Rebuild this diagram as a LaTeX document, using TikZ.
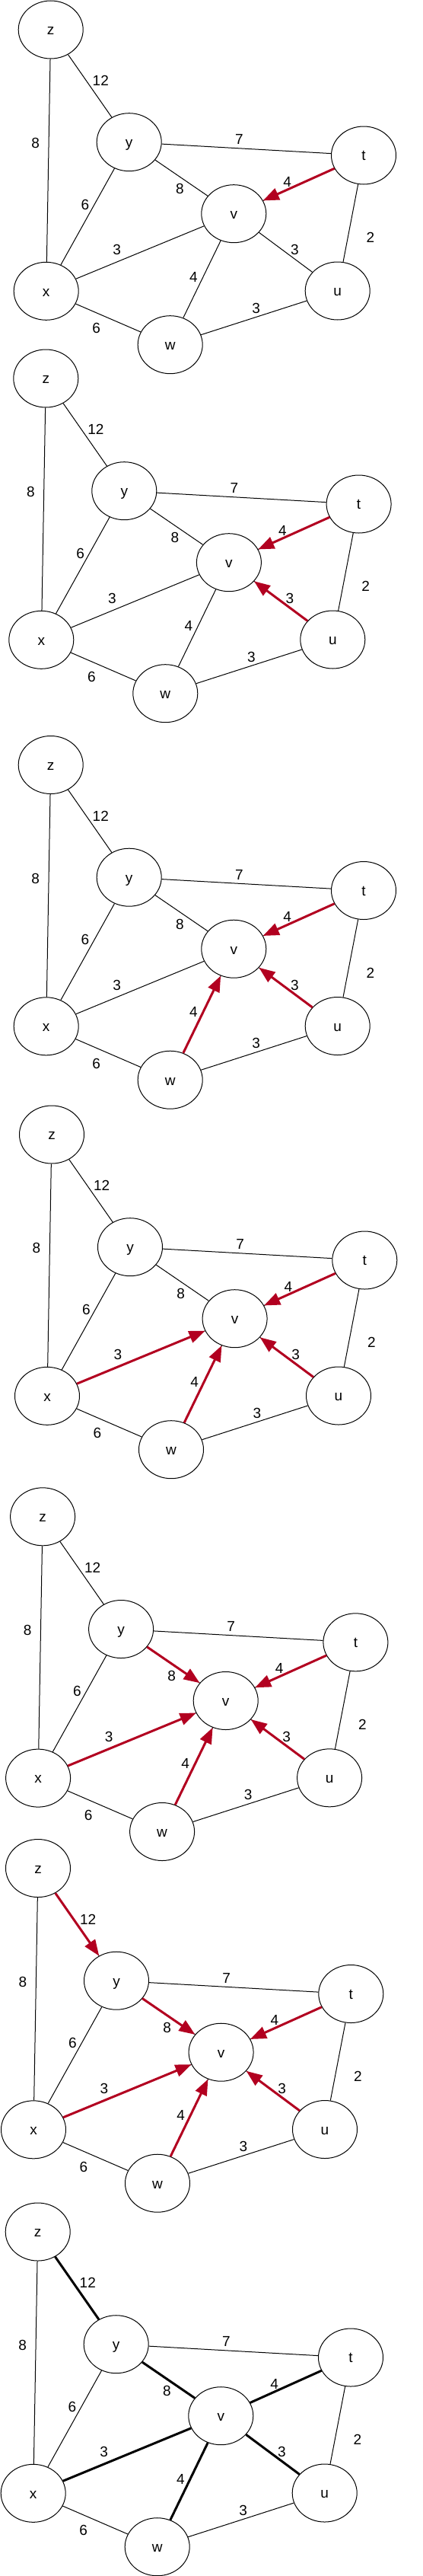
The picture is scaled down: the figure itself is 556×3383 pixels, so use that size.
\documentclass[tikz,border=0pt]{standalone}
\usepackage{fontspec}
\setmainfont{Liberation Sans}
\usetikzlibrary{arrows.meta, shapes.geometric}
\definecolor{relaxred}{RGB}{178,0,32}
\tikzset{
    vertex/.style={draw, ellipse, line width=1pt, minimum width=85pt, minimum height=76pt, inner sep=0pt,
        font=\fontsize{19}{22}\selectfont, text height=13.6pt, text depth=0pt},
    weight/.style={inner sep=0pt, font=\fontsize{19}{22}\selectfont, text height=13.6pt, text depth=0pt},
    link/.style={line width=1pt, draw=black},
    relax/.style={-{Triangle[length=21pt, width=16pt]}, line width=3pt, draw=relaxred},
    tree/.style={line width=3pt, draw=black}
}
% one copy of the weighted graph, coordinates in pixels of a panel
\newcommand{\dijkstrapanel}{%
    \node (z) [vertex] at (66.7,39) {z};
    \node (y) [vertex] at (169.7,186.7) {y};
    \node (t) [vertex] at (478,204) {t};
    \node (v) [vertex] at (307.3,280.7) {v};
    \node (x) [vertex] at (60.7,382.3) {x};
    \node (u) [vertex] at (443.7,382) {u};
    \node (w) [vertex] at (223.7,452.7) {w};

    \draw [link] (z) -- (x);
    \draw [link] (z) -- (y);
    \draw [link] (y) -- (t);
    \draw [link] (y) -- (v);
    \draw [link] (y) -- (x);
    \draw [link] (t) -- (v);
    \draw [link] (t) -- (u);
    \draw [link] (x) -- (v);
    \draw [link] (v) -- (u);
    \draw [link] (v) -- (w);
    \draw [link] (x) -- (w);
    \draw [link] (w) -- (u);

    \node (wzy) [weight] at (132.3,106) {12};
    \node (wzx) [weight] at (46.7,187.7) {8};
    \node (wyt) [weight] at (314.3,182.7) {7};
    \node (wyv) [weight] at (236.3,247.7) {8};
    \node (wyx) [weight] at (112,268.3) {6};
    \node (wtv) [weight] at (377.7,238.3) {4};
    \node (wtu) [weight] at (487,311.7) {2};
    \node (wxv) [weight] at (153.7,327.7) {3};
    \node (wvu) [weight] at (387.3,327.7) {3};
    \node (wvw) [weight] at (254.3,363.3) {4};
    \node (wxw) [weight] at (126.7,430.7) {6};
    \node (wwu) [weight] at (336.7,404.3) {3};
}

\begin{document}
\begin{tikzpicture}[x=1pt, y=-1pt]
    \useasboundingbox (0,0) rectangle (556,3383);

    % step 1
    \begin{scope}[shift={(0,0)}, name prefix=a-]
        \dijkstrapanel
        \draw [relax] (t) -- (v);
    \end{scope}

    % step 2
    \begin{scope}[shift={(-6.4,458)}, name prefix=b-]
        \dijkstrapanel
        \draw [relax] (t) -- (v);
        \draw [relax] (u) -- (v);
    \end{scope}

    % step 3
    \begin{scope}[shift={(0,965.5)}, name prefix=c-]
        \dijkstrapanel
        \draw [relax] (t) -- (v);
        \draw [relax] (u) -- (v);
        \draw [relax] (w) -- (v);
    \end{scope}

    % step 4
    \begin{scope}[shift={(1.3,1451)}, name prefix=d-]
        \dijkstrapanel
        \draw [relax] (t) -- (v);
        \draw [relax] (u) -- (v);
        \draw [relax] (w) -- (v);
        \draw [relax] (x) -- (v);
    \end{scope}

    % step 5
    \begin{scope}[shift={(-10.6,1952.8)}, name prefix=e-]
        \dijkstrapanel
        \draw [relax] (t) -- (v);
        \draw [relax] (u) -- (v);
        \draw [relax] (w) -- (v);
        \draw [relax] (x) -- (v);
        \draw [relax] (y) -- (v);
    \end{scope}

    % step 6
    \begin{scope}[shift={(-16.7,2414.5)}, name prefix=f-]
        \dijkstrapanel
        \draw [relax] (t) -- (v);
        \draw [relax] (u) -- (v);
        \draw [relax] (w) -- (v);
        \draw [relax] (x) -- (v);
        \draw [relax] (y) -- (v);
        \draw [relax] (z) -- (y);
    \end{scope}

    % resulting tree
    \begin{scope}[shift={(-17,2892)}, name prefix=g-]
        \dijkstrapanel
        \draw [tree] (z) -- (y);
        \draw [tree] (y) -- (v);
        \draw [tree] (t) -- (v);
        \draw [tree] (x) -- (v);
        \draw [tree] (u) -- (v);
        \draw [tree] (w) -- (v);
    \end{scope}
\end{tikzpicture}
\end{document}
